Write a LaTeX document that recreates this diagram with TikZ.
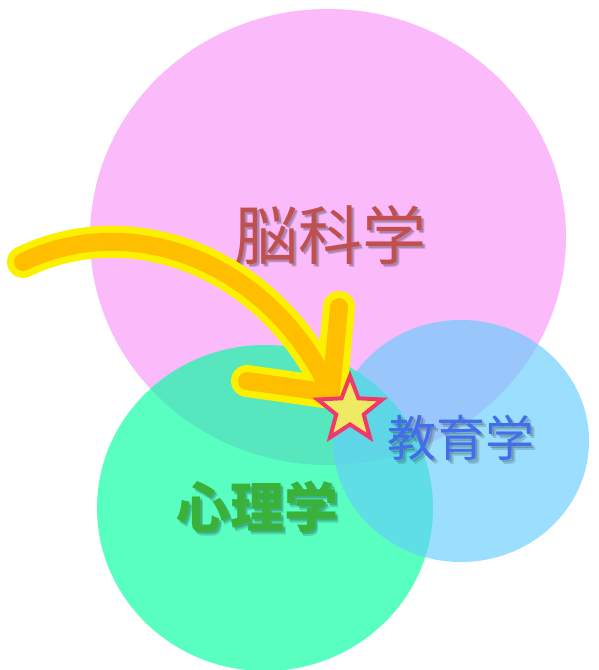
\documentclass[tikz,border=0pt]{standalone}
\usepackage{fontspec}
\newfontfamily\cjk{Noto Sans CJK JP}
\usetikzlibrary{shapes.geometric}
\definecolor{pinkc}{RGB}{251,187,251}
\definecolor{greenc}{RGB}{2,255,160}
\definecolor{bluec}{RGB}{101,205,252}
\definecolor{brainc}{RGB}{192,80,77}
\definecolor{psychc}{RGB}{58,178,58}
\definecolor{educc}{RGB}{66,110,236}
\definecolor{arrowout}{RGB}{250,240,0}
\definecolor{arrowin}{RGB}{255,190,0}
\definecolor{starline}{RGB}{240,56,107}
\definecolor{starfill}{RGB}{238,234,100}
\newcommand\myshadowtext[4]{%
  \node[opacity=.15, text=black, font=#2] at ([shift={(3.5,3.5)}]#1) {#4};
  \node[opacity=.18, text=black, font=#2] at ([shift={(2,2)}]#1) {#4};
  \node[text=#3, font=#2] at (#1) {#4};}
\begin{document}
\begin{tikzpicture}[x=1pt,y=-1pt,
  blob/.style={ellipse, inner sep=0pt, draw=none},
  outerline/.style={draw=arrowout, line width=32pt, line cap=round, line join=round},
  innerline/.style={draw=arrowin, line width=18pt, line cap=round, line join=round},
  starmark/.style={star, star points=5, star point ratio=2.35, minimum size=68pt, inner sep=0pt,
    draw=starline, fill=starfill, line width=4pt}]
\useasboundingbox (0,0) rectangle (598,670);
\clip (0,0) rectangle (598,670);
\node[blob, fill=pinkc, minimum width=476pt, minimum height=456pt] (brain) at (328,237) {};
\node[blob, fill=greenc, fill opacity=0.66, minimum width=336pt, minimum height=326pt] (psych) at (265,508) {};
\node[blob, fill=bluec, fill opacity=0.65, minimum width=256pt, minimum height=242pt] (educ) at (461,441) {};
\coordinate (tbrain) at (330,235);
\coordinate (tpsych) at (257,507);
\coordinate (teduc) at (461,438);
\myshadowtext{tbrain}{\cjk\fontsize{64}{64}\selectfont}{brainc}{脳科学}
\myshadowtext{tpsych}{\cjk\bfseries\fontsize{54}{54}\selectfont}{psychc}{心理学}
\myshadowtext{teduc}{\cjk\fontsize{49}{49}\selectfont}{educc}{教育学}
\coordinate (s) at (23,262);
\coordinate (tip) at (331,393);
\coordinate (a1) at (247,381);
\coordinate (a2) at (339,307);
\draw[outerline] (s) .. controls (130,210) and (270,260) .. (tip);
\draw[outerline] (a1) -- (tip) -- (a2);
\draw[innerline] (s) .. controls (130,210) and (270,260) .. (tip);
\draw[innerline] (a1) -- (tip) -- (a2);
\node[starmark] (mark) at (350,410) {};
\end{tikzpicture}
\end{document}
